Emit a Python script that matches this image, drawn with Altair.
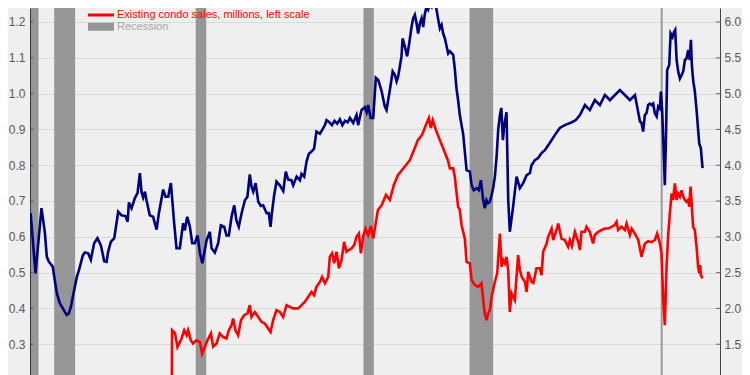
import altair as alt
import pandas as pd

# ---- data ----
blue_year = [1980.00,1980.31,1980.69,1980.90,1981.03,1981.16,1981.28,1981.41,1981.54,1981.67,1981.86,1982.05,1982.18,1982.30,1982.43,1982.56,1982.68,1982.81,1982.94,1983.07,1983.19,1983.32,
1983.45,1983.66,1983.83,1984.04,1984.25,1984.47,1984.68,1984.83,1984.93,1985.10,1985.32,1985.57,1985.78,1986.03,1986.17,1986.25,1986.42,1986.63,1986.80,1986.95,1987.05,1987.16,1987.27,1987.37,1987.58,1987.79,1988.01,1988.16,1988.43,1988.58,1988.75,1988.92,
1989.00,1989.13,1989.28,1989.49,1989.70,1989.81,1989.96,1990.13,1990.28,1990.44,1990.62,1990.77,1990.92,1991.04,1991.19,1991.40,1991.51,1991.72,1991.93,1992.10,1992.31,1992.46,1992.61,1992.78,1992.95,1993.09,1993.24,1993.42,1993.63,1993.79,1993.94,
1994.05,1994.16,1994.31,1994.48,1994.64,1994.79,1995.01,1995.15,1995.26,1995.33,1995.49,1995.64,1995.85,1996.07,1996.23,1996.38,1996.59,1996.70,1996.92,1997.13,1997.23,1997.40,1997.55,1997.70,1997.87,1998.03,1998.18,1998.40,1998.54,1998.72,1998.82,
1999.00,1999.17,1999.33,1999.50,1999.67,1999.83,2000.00,2000.17,2000.31,2000.52,2000.73,2000.83,2001.05,2001.26,2001.37,2001.47,2001.63,2001.79,2001.96,2002.11,2002.33,2002.53,2002.64,2002.85,2003.03,2003.17,2003.28,2003.38,2003.59,2003.66,2003.80,2003.95,
2004.08,2004.23,2004.33,2004.44,2004.55,2004.65,2004.76,2004.87,2004.97,2005.08,2005.18,2005.28,2005.39,2005.50,2005.61,2005.71,2005.82,2005.93,2006.03,2006.14,2006.24,2006.35,2006.46,2006.56,2006.67,2006.88,2006.98,2007.09,2007.19,2007.30,2007.41,
2007.51,2007.73,2007.94,2008.05,2008.19,2008.37,2008.51,2008.64,2008.79,2008.89,2009.00,2009.10,2009.21,2009.32,2009.42,2009.53,2009.64,2009.74,2009.85,2009.94,2010.04,2010.13,2010.27,2010.38,2010.48,2010.69,2010.91,2011.12,2011.33,2011.55,2011.76,2011.86,
2012.07,2012.28,2012.50,2012.71,2013.02,2013.34,2013.66,2013.98,2014.43,2014.68,2014.94,2015.26,2015.57,2015.89,2016.21,2016.53,2016.85,2017.17,2017.48,2017.80,2018.12,2018.44,2018.76,2018.86,2018.96,2019.07,2019.18,2019.28,2019.39,2019.50,2019.60,2019.71,
2019.82,2019.92,2020.03,2020.09,2020.17,2020.28,2020.34,2020.41,2020.49,2020.62,2020.71,2020.83,2020.92,2021.00,2021.09,2021.19,2021.30,2021.41,2021.51,2021.62,2021.72,2021.83,2021.93,2022.00,2022.06,2022.14,2022.25,2022.36,2022.46,2022.53,2022.63,2022.74]
blue_sales = [3.33,2.49,3.40,3.07,2.72,2.65,2.62,2.58,2.39,2.21,2.07,2.00,1.95,1.91,1.93,2.02,2.16,2.30,2.44,2.53,2.63,2.74,
2.78,2.77,2.68,2.91,2.98,2.88,2.66,2.65,2.79,2.93,2.98,3.35,3.30,3.29,3.21,3.48,3.40,3.54,3.61,3.89,3.63,3.55,3.63,3.51,3.30,3.28,3.10,3.33,3.66,3.56,3.56,3.75,
3.54,3.19,2.84,2.84,3.19,3.09,3.28,3.14,2.91,2.91,3.02,2.77,2.63,2.77,2.95,3.07,2.84,2.78,2.91,3.16,3.14,3.02,3.02,3.28,3.44,3.23,3.14,3.33,3.51,3.56,3.87,
3.70,3.63,3.75,3.49,3.43,3.44,3.33,3.33,3.14,3.30,3.58,3.77,3.72,3.64,3.91,3.80,3.79,3.72,3.84,3.79,3.88,3.84,4.05,4.16,4.19,4.23,4.47,4.44,4.49,4.56,4.63,
4.60,4.56,4.62,4.58,4.64,4.56,4.62,4.60,4.66,4.59,4.70,4.56,4.77,4.81,4.74,4.84,4.66,4.66,5.22,5.19,5.03,4.82,4.77,5.05,5.31,5.26,5.17,5.24,5.52,5.77,5.66,5.52,
5.70,5.93,6.05,6.10,5.98,5.84,5.98,6.05,5.93,6.12,6.21,6.17,6.24,6.21,6.31,6.28,6.17,6.03,5.91,5.96,5.84,5.77,5.66,5.56,5.59,5.54,5.35,5.07,4.91,4.70,4.56,
4.44,3.93,3.91,3.72,3.65,3.68,3.65,3.79,3.51,3.40,3.51,3.47,3.49,3.58,3.68,3.84,4.12,4.49,4.70,4.80,4.35,4.56,4.74,3.51,3.07,3.42,3.84,3.68,3.75,3.86,3.89,4.00,
4.07,4.10,4.17,4.21,4.31,4.42,4.52,4.56,4.60,4.63,4.70,4.84,4.77,4.91,4.84,4.98,4.91,4.98,5.05,4.98,4.91,4.98,4.61,4.59,4.47,4.70,4.73,4.84,4.86,4.84,4.86,4.72,
4.68,4.82,4.79,5.03,4.77,4.12,3.72,4.35,5.33,5.40,5.84,5.79,5.86,5.89,5.47,5.31,5.21,5.26,5.31,5.47,5.49,5.61,5.47,5.75,5.40,5.19,5.03,4.77,4.49,4.30,4.24,3.96]

red_year = [1988.97,1989.00,1989.18,1989.34,1989.60,1989.77,1989.92,1990.02,1990.19,1990.33,1990.55,1990.77,1990.91,1991.08,1991.25,1991.47,1991.61,1991.83,1992.03,1992.25,1992.46,1992.61,1992.78,1992.88,1993.03,1993.20,1993.38,1993.58,1993.80,1993.94,
1994.05,1994.26,1994.48,1994.69,1994.90,1995.11,1995.26,1995.43,1995.64,1995.85,1996.06,1996.28,1996.49,1996.70,1997.02,1997.23,1997.44,1997.65,1997.87,1998.03,1998.18,1998.40,1998.54,1998.72,1998.93,
1999.03,1999.18,1999.31,1999.46,1999.61,1999.78,1999.94,2000.09,2000.24,2000.42,2000.58,2000.73,2000.88,2001.01,2001.15,2001.30,2001.47,2001.64,2001.79,
2002.09,2002.34,2002.60,2002.85,2003.10,2003.36,2003.61,2003.87,2004.12,2004.38,2004.63,2004.89,2005.14,2005.33,2005.46,2005.58,2005.78,2006.03,2006.29,2006.54,
2006.67,2006.88,2006.98,2007.19,2007.30,2007.41,2007.62,2007.73,2007.94,2008.05,2008.26,2008.47,2008.68,2008.79,2008.89,2009.00,2009.10,2009.21,2009.32,2009.53,2009.68,2009.85,2009.96,
2010.06,2010.17,2010.27,2010.38,2010.48,2010.59,2010.80,2011.01,2011.12,2011.25,2011.44,2011.55,2011.65,2011.86,2011.98,2012.18,2012.39,2012.50,2012.60,2012.82,2012.92,2013.14,2013.24,2013.45,2013.56,2013.77,2013.98,
2014.19,2014.30,2014.43,2014.62,2014.83,2014.94,2015.04,2015.26,2015.36,2015.57,2015.78,2015.89,2016.10,2016.32,2016.53,2016.74,2016.95,2017.16,2017.27,2017.37,2017.59,2017.80,2017.91,2018.12,2018.23,2018.44,2018.65,
2018.86,2019.07,2019.28,2019.50,2019.71,2019.85,2020.03,2020.13,2020.24,2020.34,2020.45,2020.56,2020.66,2020.77,2020.87,2020.98,2021.09,2021.19,2021.30,2021.41,2021.51,2021.62,2021.72,2021.83,2021.89,2021.98,
2022.06,2022.14,2022.25,2022.36,2022.46,2022.53,2022.59,2022.63,2022.74]
red_sales = [0.10,0.339,0.331,0.292,0.316,0.339,0.325,0.339,0.311,0.302,0.311,0.306,0.274,0.293,0.311,0.330,0.293,0.302,0.330,0.320,0.316,0.339,0.353,0.372,0.339,0.325,0.367,0.381,0.386,0.409,
0.376,0.390,0.376,0.362,0.358,0.344,0.334,0.367,0.395,0.390,0.376,0.409,0.404,0.400,0.400,0.409,0.418,0.432,0.446,0.437,0.460,0.474,0.488,0.470,0.488,
0.544,0.554,0.526,0.558,0.512,0.535,0.586,0.558,0.563,0.568,0.577,0.600,0.609,0.554,0.600,0.623,0.605,0.630,0.595,
0.675,0.689,0.717,0.703,0.744,0.772,0.786,0.800,0.814,0.842,0.870,0.884,0.912,0.932,0.904,0.926,0.898,0.870,0.842,0.814,
0.791,0.791,0.768,0.684,0.675,0.633,0.595,0.530,0.526,0.479,0.465,0.460,0.470,0.423,0.386,0.367,0.386,0.395,0.432,0.474,0.498,0.609,0.516,
0.535,0.526,0.544,0.507,0.390,0.442,0.423,0.549,0.507,0.487,0.474,0.446,0.502,0.474,0.471,0.512,0.512,0.493,0.558,0.581,0.600,0.623,0.591,0.619,0.637,0.595,0.591,
0.572,0.591,0.574,0.614,0.586,0.563,0.614,0.614,0.628,0.614,0.581,0.605,0.614,0.619,0.623,0.623,0.628,0.633,0.642,0.619,0.628,0.619,0.637,0.605,0.623,0.609,0.591,
0.544,0.581,0.588,0.585,0.591,0.609,0.581,0.554,0.423,0.353,0.516,0.609,0.665,0.721,0.703,0.749,0.703,0.721,0.712,0.730,0.712,0.703,0.698,0.703,0.684,0.740,
0.684,0.628,0.619,0.572,0.516,0.498,0.521,0.493,0.484]

rec_start = [1980.0, 1981.5, 1990.5, 2001.17, 2007.92, 2020.08]
rec_end = [1980.5, 1982.83, 1991.17, 2001.83, 2009.42, 2020.2]

left_ticks = [0.2, 0.3, 0.4, 0.5, 0.6, 0.7, 0.8, 0.9, 1.0, 1.1, 1.2]
right_ticks = [1.0, 1.5, 2.0, 2.5, 3.0, 3.5, 4.0, 4.5, 5.0, 5.5, 6.0]

legend_labels = ["Existing single-family home sales, millions, right scale",
                 "Existing condo sales, millions, left scale",
                 "Recession"]

# ---- layout ----
W, H = 690, 372
XDOM = [1979.96, 2023.85]
LDOM = [0.2, 1.2391]
RDOM = [1.0, 6.1955]
NAVY = "#000080"
RED = "#ff0000"
GREY = "#969696"
FONT = "Liberation Sans"

xs = alt.Scale(domain=XDOM, nice=False, zero=False)
ls = alt.Scale(domain=LDOM, nice=False, zero=False)
rs = alt.Scale(domain=RDOM, nice=False, zero=False)

bars = alt.Chart(pd.DataFrame({"s": rec_start, "e": rec_end})).mark_rect(color=GREY).encode(
    x=alt.X("s:Q", scale=xs, axis=None), x2="e:Q")

red = alt.Chart(pd.DataFrame({"year": red_year, "sales": red_sales})).mark_line(
    color=RED, strokeWidth=2.6, clip=True).encode(
    x=alt.X("year:Q", scale=xs, axis=None),
    y=alt.Y("sales:Q", scale=ls, axis=alt.Axis(
        orient="left", values=left_ticks, format=".1f", title=None, grid=True,
        gridColor="#d9d9d9", gridWidth=1, ticks=False, labelPadding=5,
        domainColor="#000000", domainWidth=1, labelFont=FONT, labelFontSize=12,
        labelColor="#595959")))

blue = alt.Chart(pd.DataFrame({"year": blue_year, "sales": blue_sales})).mark_line(
    color=NAVY, strokeWidth=2.6, clip=True).encode(
    x=alt.X("year:Q", scale=xs, axis=None),
    y=alt.Y("sales:Q", scale=rs, axis=alt.Axis(
        orient="right", values=right_ticks, format=".1f", title=None, grid=False,
        ticks=False, labelPadding=4, domainColor="#444444", domainWidth=1,
        labelFont=FONT, labelFontSize=12, labelColor="#595959")))

lticks = alt.Chart(pd.DataFrame({"v": left_ticks})).mark_tick(
    color="#333333", thickness=1, size=3).encode(
    y=alt.Y("v:Q", scale=ls, axis=None), x=alt.value(1.5))
rticks = alt.Chart(pd.DataFrame({"v": right_ticks})).mark_tick(
    color="#333333", thickness=1, size=4).encode(
    y=alt.Y("v:Q", scale=rs, axis=None), x=alt.value(W - 2))

one = pd.DataFrame({"a": [0]})
leg_y = [-4.7, 7, 18.7]
leg_line1 = alt.Chart(one).mark_rule(color=NAVY, strokeWidth=3).encode(
    x=alt.value(58), x2=alt.value(84), y=alt.value(leg_y[0]))
leg_line2 = alt.Chart(one).mark_rule(color=RED, strokeWidth=3).encode(
    x=alt.value(58), x2=alt.value(84), y=alt.value(leg_y[1]))
leg_rect = alt.Chart(one).mark_rect(color=GREY).encode(
    x=alt.value(58), x2=alt.value(84), y=alt.value(leg_y[2] - 4), y2=alt.value(leg_y[2] + 4))
leg_colors = [NAVY, RED, "#a6a6a6"]
leg_texts = [alt.Chart(one).mark_text(align="left", baseline="middle", font=FONT, fontSize=11,
                                      color=c).encode(x=alt.value(87), y=alt.value(yy), text=alt.value(t))
             for t, c, yy in zip(legend_labels, leg_colors, leg_y)]

chart = alt.layer(bars, red, blue, lticks, rticks, leg_line1, leg_line2, leg_rect, *leg_texts).resolve_scale(
    y="independent").properties(
    width=W, height=H, autosize=alt.AutoSizeParams(type="none"),
    padding={"left": 22, "top": 0, "right": 22, "bottom": 0}
).configure(background="#efefef").configure_view(strokeWidth=0, fill="#efefef")

chart.save("out.html", embed_options={"renderer": "svg", "actions": False})
